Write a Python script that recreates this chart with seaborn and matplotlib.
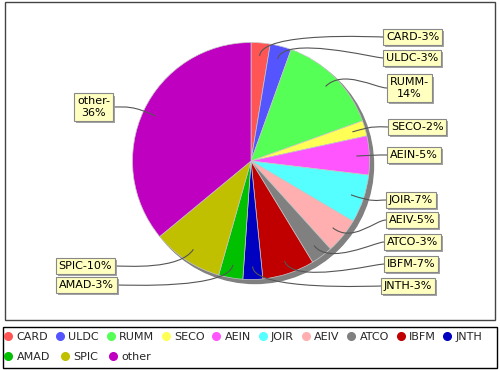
import matplotlib
matplotlib.use("Agg")
import matplotlib.pyplot as plt
import matplotlib.patheffects as pe
from matplotlib.lines import Line2D
from matplotlib.patches import Circle, PathPatch, Rectangle
from matplotlib.path import Path
import numpy as np
import seaborn as sns

# slice data, clockwise from 12 o'clock
names = ["CARD", "ULDC", "RUMM", "SECO", "AEIN", "JOIR", "AEIV",
         "ATCO", "IBFM", "JNTH", "AMAD", "SPIC", "other"]
shares = [2.6, 2.9, 14.0, 2.1, 5.3, 6.6, 4.8, 3.0, 7.1, 2.7, 3.3, 9.6, 36.0]
slice_colors = ["#ff5555", "#5555ff", "#55ff55", "#ffff55", "#ff55ff", "#55ffff",
                "#ffafaf", "#808080", "#c00000", "#0000c0", "#00c000", "#c0c000",
                "#c000c0"]
wrapped = ["RUMM", "other"]

# layout (pixels, y measured from the top)
W, H = 500, 370
CX, CY, R = 251, 161, 118.5
label_pos = [(383, 37), (383, 58), (387, 88), (388, 127), (387, 155),
             (386, 200), (386, 220), (384, 242), (384, 264), (381, 286),
             (117, 285), (115, 266), (113, 107)]


def flip(y):
    return H - y


sns.set_style("white")
plt.rcParams["font.family"] = ["DejaVu Sans"]
palette = sns.color_palette(slice_colors)

fig = plt.figure(figsize=(W / 100, H / 100), dpi=100)
ax = fig.add_axes([0, 0, 1, 1])

# shadow under the pie
ax.add_patch(Circle((CX + 4, flip(CY + 4)), R, color="#808080", zorder=1))
ax.pie(shares, colors=palette, startangle=90, counterclock=False,
       center=(CX, flip(CY)), radius=R,
       wedgeprops=dict(edgecolor="#c8c8c8", linewidth=0.5, zorder=2))

ax.set_xlim(0, W)
ax.set_ylim(0, H)
ax.set_aspect("auto")
ax.axis("off")

# plot outline
ax.add_patch(Rectangle((5, flip(320)), 490, 318, fill=False,
                       ec="#444444", lw=1, clip_on=False))

# labels with curved links
total = sum(shares)
start = 0.0
for name, val, (lx, ly) in zip(names, shares, label_pos):
    span = val / total * 360
    mid = np.radians(start + span / 2)
    start += span
    right = np.degrees(mid) < 180
    sx, sy = np.sin(mid), np.cos(mid)
    p0 = (CX + 0.89 * R * sx, flip(CY) + 0.89 * R * sy)
    p1 = (CX + 1.1 * R * sx, flip(CY) + 1.1 * R * sy)
    anchor_x = CX + 1.05 * R if right else CX - 1.05 * R
    p2 = (anchor_x, flip(ly))
    p3 = (lx, flip(ly))
    path = Path([p0, p1, p2, p3], [Path.MOVETO, Path.CURVE4, Path.CURVE4, Path.CURVE4])
    ax.add_patch(PathPatch(path, fc="none", ec="#555555", lw=0.8, zorder=3))

    pct = round(val)
    txt = f"{name}-\n{pct}%" if name in wrapped else f"{name}-{pct}%"
    tx = lx + 3 if right else lx - 3
    t = ax.text(tx, flip(ly), txt, ha="left" if right else "right", va="center",
                multialignment="center", fontsize=8, color="black", zorder=5,
                bbox=dict(boxstyle="square,pad=0.25", fc="#ffffc0", ec="#888888", lw=0.8))
    t.get_bbox_patch().set_path_effects([
        pe.SimplePatchShadow(offset=(1.5, -1.5), shadow_rgbFace="#999999", alpha=0.9),
        pe.Normal(),
    ])

# legend: two flow rows inside a black box
handles = [Line2D([], [], ls="", marker="o", ms=5.5, mfc=c, mec=c) for c in palette]
leg_kw = dict(loc="center left", frameon=False, fontsize=8, handlelength=0.8,
              handletextpad=0.35, borderpad=0, borderaxespad=0)
fig.legend(handles[:10], names[:10], ncol=10, columnspacing=0.65,
           bbox_to_anchor=(4 / W, 1 - 337 / H), **leg_kw)
fig.legend(handles[10:], names[10:], ncol=3, columnspacing=0.95,
           bbox_to_anchor=(4 / W, 1 - 357 / H), **leg_kw)
ax.add_patch(Rectangle((3, flip(368)), 494, 41, fill=False,
                       ec="black", lw=1, clip_on=False))

fig.savefig("out.png", dpi=100)
plt.close(fig)
